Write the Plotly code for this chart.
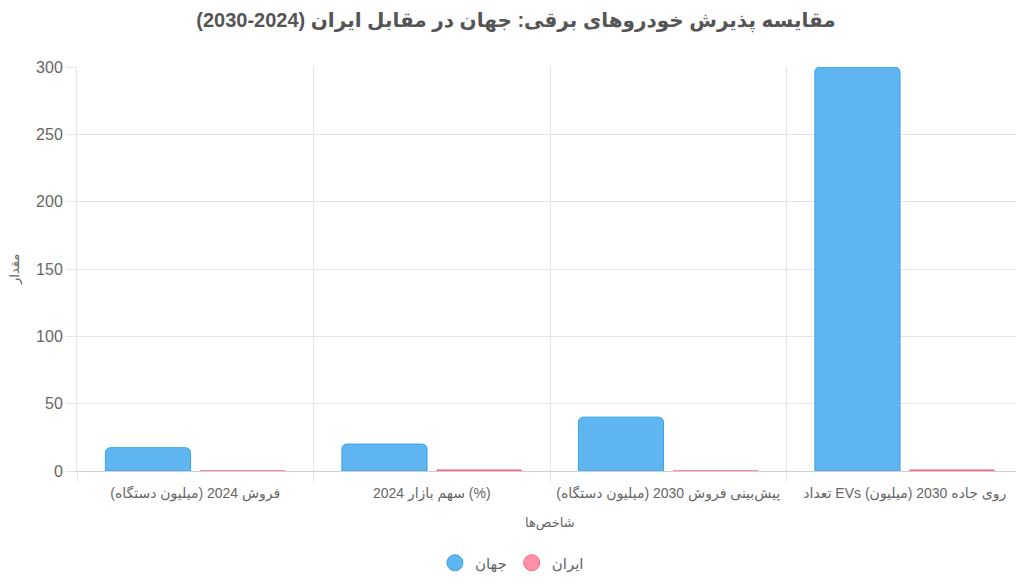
import plotly.graph_objects as go

title = "مقایسه پذیرش خودروهای برقی: جهان در مقابل ایران (2024-2030)"
categories = [
    "فروش 2024 (میلیون دستگاه)",
    "سهم بازار 2024 (%)",
    "پیش‌بینی فروش 2030 (میلیون دستگاه)",
    "تعداد EVs روی جاده 2030 (میلیون)",
]
series_names = ["جهان", "ایران"]
world = [17.3, 20, 40, 300]
iran = [0.03, 0.8, 0.05, 0.8]

x_title = "شاخص‌ها"
y_title = "مقدار"

FONT = "Arial, 'Liberation Sans', 'DejaVu Sans', sans-serif"
GRID = "#e5e5e5"
TXT = "#666666"

# page body has an 8px margin, so the figure is a bit smaller than the window
W, H = 1016, 579
L, R, T, B = 69, 1, 59, 116
plot_w, plot_h = W - L - R, H - T - B

fig = go.Figure()
fig.add_bar(x=categories, y=world, name=series_names[0], showlegend=False,
            marker=dict(color="rgba(54,162,235,0.8)",
                        line=dict(color="rgb(54,162,235)", width=1)))
fig.add_bar(x=categories, y=iran, name=series_names[1], showlegend=False,
            marker=dict(color="rgba(255,99,132,0.8)",
                        line=dict(color="rgb(255,99,132)", width=1)))

# round legend keys
fig.add_scatter(x=[None], y=[None], mode="markers", name=series_names[0],
                marker=dict(symbol="circle", size=16, color="rgba(54,162,235,0.8)",
                            line=dict(color="rgb(54,162,235)", width=1)))
fig.add_scatter(x=[None], y=[None], mode="markers", name=series_names[1],
                marker=dict(symbol="circle", size=16, color="rgba(255,99,132,0.7)",
                            line=dict(color="rgb(255,99,132)", width=1)))

fig.update_layout(
    width=W, height=H,
    margin=dict(l=L, r=R, t=T, b=B, autoexpand=False),
    paper_bgcolor="white", plot_bgcolor="white",
    font=dict(family=FONT, color=TXT, size=13),
    title=dict(text="<b>" + title + "</b>", x=0.5, xanchor="center",
               y=1 - 12 / H, yanchor="middle",
               font=dict(size=20, color="#555555", family=FONT)),
    barmode="group", bargap=0.2, bargroupgap=0.1, barcornerradius=5,
    legend=dict(orientation="h", xref="container", x=0.496, xanchor="center",
                y=-92 / plot_h, yanchor="middle",
                font=dict(size=15, color=TXT), itemwidth=30),
    showlegend=True,
)

# axis titles as plain annotations
fig.add_annotation(text=x_title, xref="paper", yref="paper", x=0.5, y=-52 / plot_h,
                   xanchor="center", yanchor="middle", showarrow=False,
                   font=dict(size=13, color=TXT))
fig.add_annotation(text=y_title, xref="paper", yref="paper", x=(7 - L) / plot_w, y=0.5,
                   xanchor="center", yanchor="middle", showarrow=False, textangle=-90,
                   font=dict(size=13, color=TXT))

fig.update_xaxes(
    type="category", tickson="boundaries", range=[-0.5, 3.5],
    showgrid=True, gridcolor=GRID, gridwidth=1,
    ticks="outside", ticklen=10, tickcolor=GRID,
    showline=True, linecolor="#d0d0d0", linewidth=1,
    tickfont=dict(size=14, color=TXT), ticklabelstandoff=9,
    tickangle=0, automargin=False,
)
fig.update_yaxes(
    range=[0, 300], dtick=50,
    showgrid=True, gridcolor=GRID, gridwidth=1,
    ticks="outside", ticklen=10, tickcolor=GRID,
    showline=True, linecolor=GRID, zeroline=False,
    tickfont=dict(size=16, color=TXT), automargin=False,
)

fig.write_html("out.html")
